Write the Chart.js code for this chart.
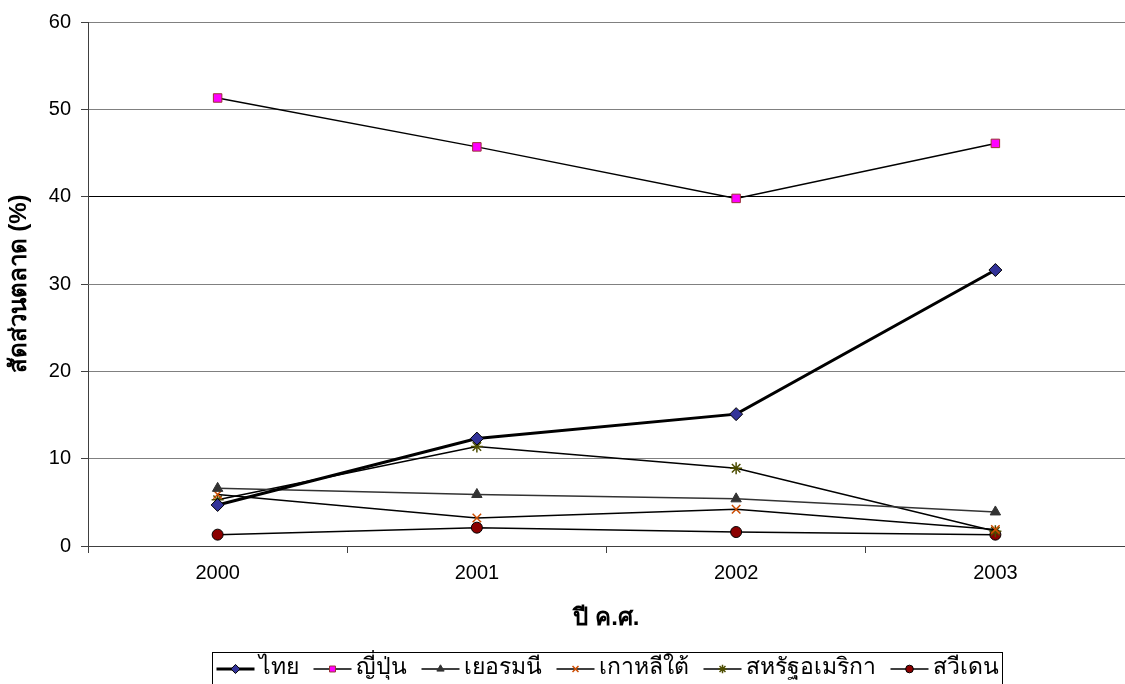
<!DOCTYPE html>
<html>
<head>
<meta charset="utf-8">
<script src="https://cdn.jsdelivr.net/npm/chart.js@4/dist/chart.umd.min.js"></script>
<style>
  html, body { margin: 0; padding: 0; background: #ffffff; }
  #wrap { width: 1125px; height: 684px; position: relative; }
</style>
</head>
<body>
<div id="wrap"><canvas id="c" width="1125" height="684"></canvas></div>
<script>
// Years on the horizontal axis
const years = ['2000', '2001', '2002', '2003'];

// Market share (%) per country
const thailand    = [4.7, 12.3, 15.1, 31.6];
const japan       = [51.3, 45.7, 39.8, 46.1];
const germany     = [6.6, 5.9, 5.4, 3.9];
const southKorea  = [5.9, 3.2, 4.2, 1.9];
const usa         = [5.3, 11.4, 8.9, 1.7];
const sweden      = [1.3, 2.1, 1.6, 1.3];

const seriesNames = ['ไทย', 'ญี่ปุ่น', 'เยอรมนี', 'เกาหลีใต้', 'สหรัฐอเมริกา', 'สวีเดน'];

const yTicks = [0, 10, 20, 30, 40, 50, 60];

const xTitle = 'ปี ค.ศ.';
const yTitle = 'สัดส่วนตลาด (%)';

const FONT = "'Liberation Sans', Arial, sans-serif";

function series(label, data, style) {
  return Object.assign({
    label, data,
    borderColor: '#000000',
    borderWidth: 1.5,
    tension: 0,
    fill: false,
    pointBorderWidth: 1,
    pointHoverRadius: 6
  }, style);
}

const datasets = [
  series(seriesNames[0], thailand, {
    borderWidth: 3, pointStyle: 'rectRot', pointRadius: 6.5,
    pointBackgroundColor: '#333399', pointBorderColor: '#000000'
  }),
  series(seriesNames[1], japan, {
    pointStyle: 'rect', pointRadius: 6,
    pointBackgroundColor: '#FF00FF', pointBorderColor: '#993333'
  }),
  series(seriesNames[2], germany, {
    borderColor: '#333333',
    pointStyle: 'triangle', pointRadius: 6,
    pointBackgroundColor: '#333333', pointBorderColor: '#333333'
  }),
  series(seriesNames[3], southKorea, {
    pointStyle: 'crossRot', pointRadius: 6, pointBorderWidth: 1.5,
    pointBackgroundColor: '#CC4C00', pointBorderColor: '#CC4C00'
  }),
  series(seriesNames[4], usa, {
    pointStyle: 'star', pointRadius: 6, pointBorderWidth: 1.5,
    pointBackgroundColor: '#4D4D00', pointBorderColor: '#4D4D00'
  }),
  series(seriesNames[5], sweden, {
    pointStyle: 'circle', pointRadius: 5.5,
    pointBackgroundColor: '#8B0000', pointBorderColor: '#000000'
  })
];

// Boxed legend under the axis title, each entry a short line with its marker
const boxedLegend = {
  id: 'boxedLegend',
  afterDraw(chart) {
    const ctx = chart.ctx;
    ctx.save();
    ctx.font = "23px " + FONT;
    const lineLen = 38, gapAfterLine = 4, gapAfterText = 15, padX = 4;
    const items = chart.data.datasets.map(ds => ({ ds, w: ctx.measureText(ds.label).width }));
    let total = padX * 2;
    items.forEach((it, i) => {
      total += lineLen + gapAfterLine + it.w + (i < items.length - 1 ? gapAfterText : 0);
    });
    const cx = (chart.chartArea.left + chart.chartArea.right) / 2;
    const left = Math.round(cx - total / 2) + 0.5;
    const top = 652.5, bottom = 690;
    ctx.strokeStyle = '#000000';
    ctx.lineWidth = 1;
    ctx.strokeRect(left, top, Math.round(total), bottom - top);
    const midY = 669;
    let x = left + padX;
    items.forEach(it => {
      const ds = it.ds;
      ctx.strokeStyle = '#000000';
      ctx.lineWidth = ds.borderWidth === 3 ? 3 : 1.5;
      ctx.beginPath();
      ctx.moveTo(x, midY);
      ctx.lineTo(x + lineLen, midY);
      ctx.stroke();
      ctx.fillStyle = ds.pointBackgroundColor;
      ctx.strokeStyle = ds.pointBorderColor;
      ctx.lineWidth = ds.pointBorderWidth;
      Chart.helpers.drawPoint(ctx, {
        pointStyle: ds.pointStyle,
        radius: ds.pointRadius * 0.7,
        borderWidth: ds.pointBorderWidth,
        rotation: 0
      }, x + lineLen / 2, midY);
      x += lineLen + gapAfterLine;
      ctx.fillStyle = '#000000';
      ctx.textBaseline = 'middle';
      ctx.textAlign = 'left';
      ctx.fillText(ds.label, x, midY - 1);
      x += it.w + gapAfterText;
    });
    ctx.restore();
  }
};

new Chart(document.getElementById('c'), {
  type: 'line',
  data: { labels: years, datasets },
  options: {
    responsive: false,
    animation: false,
    devicePixelRatio: 1,
    layout: { autoPadding: false, padding: { top: 22, right: 0, bottom: 48, left: 0 } },
    plugins: {
      legend: { display: false },
      tooltip: { enabled: false }
    },
    scales: {
      x: {
        type: 'category',
        offset: true,
        grid: {
          offset: true,
          drawOnChartArea: false,
          drawTicks: true,
          tickLength: 7,
          color: '#404040',
          lineWidth: 1
        },
        border: { display: true, color: '#404040', width: 1 },
        ticks: {
          color: '#000000',
          font: { family: FONT, size: 20 },
          padding: 8,
          maxRotation: 0
        },
        title: {
          display: true,
          text: xTitle,
          color: '#000000',
          font: { family: FONT, size: 24, weight: 'bold' },
          padding: { top: 2, bottom: 3 }
        },
        afterFit(scale) {
          scale.height = 90;
          scale.paddingLeft = 0;
          scale.paddingRight = 0;
        }
      },
      y: {
        min: 0,
        max: 60,
        afterBuildTicks(scale) { scale.ticks = yTicks.map(v => ({ value: v })); },
        grid: {
          color: ctx => (ctx.tick && ctx.tick.value === 40 ? '#000000' : '#808080'),
          lineWidth: 1,
          drawTicks: true,
          tickLength: 7,
          tickColor: '#404040'
        },
        border: { display: true, color: '#404040', width: 1 },
        ticks: {
          color: '#000000',
          font: { family: FONT, size: 20 },
          padding: 10
        },
        title: {
          display: true,
          text: yTitle,
          color: '#000000',
          font: { family: FONT, size: 24, weight: 'bold' },
          padding: { top: 5, bottom: 5 }
        },
        afterFit(scale) { scale.width = 88; }
      }
    }
  },
  plugins: [boxedLegend]
});
</script>
</body>
</html>
